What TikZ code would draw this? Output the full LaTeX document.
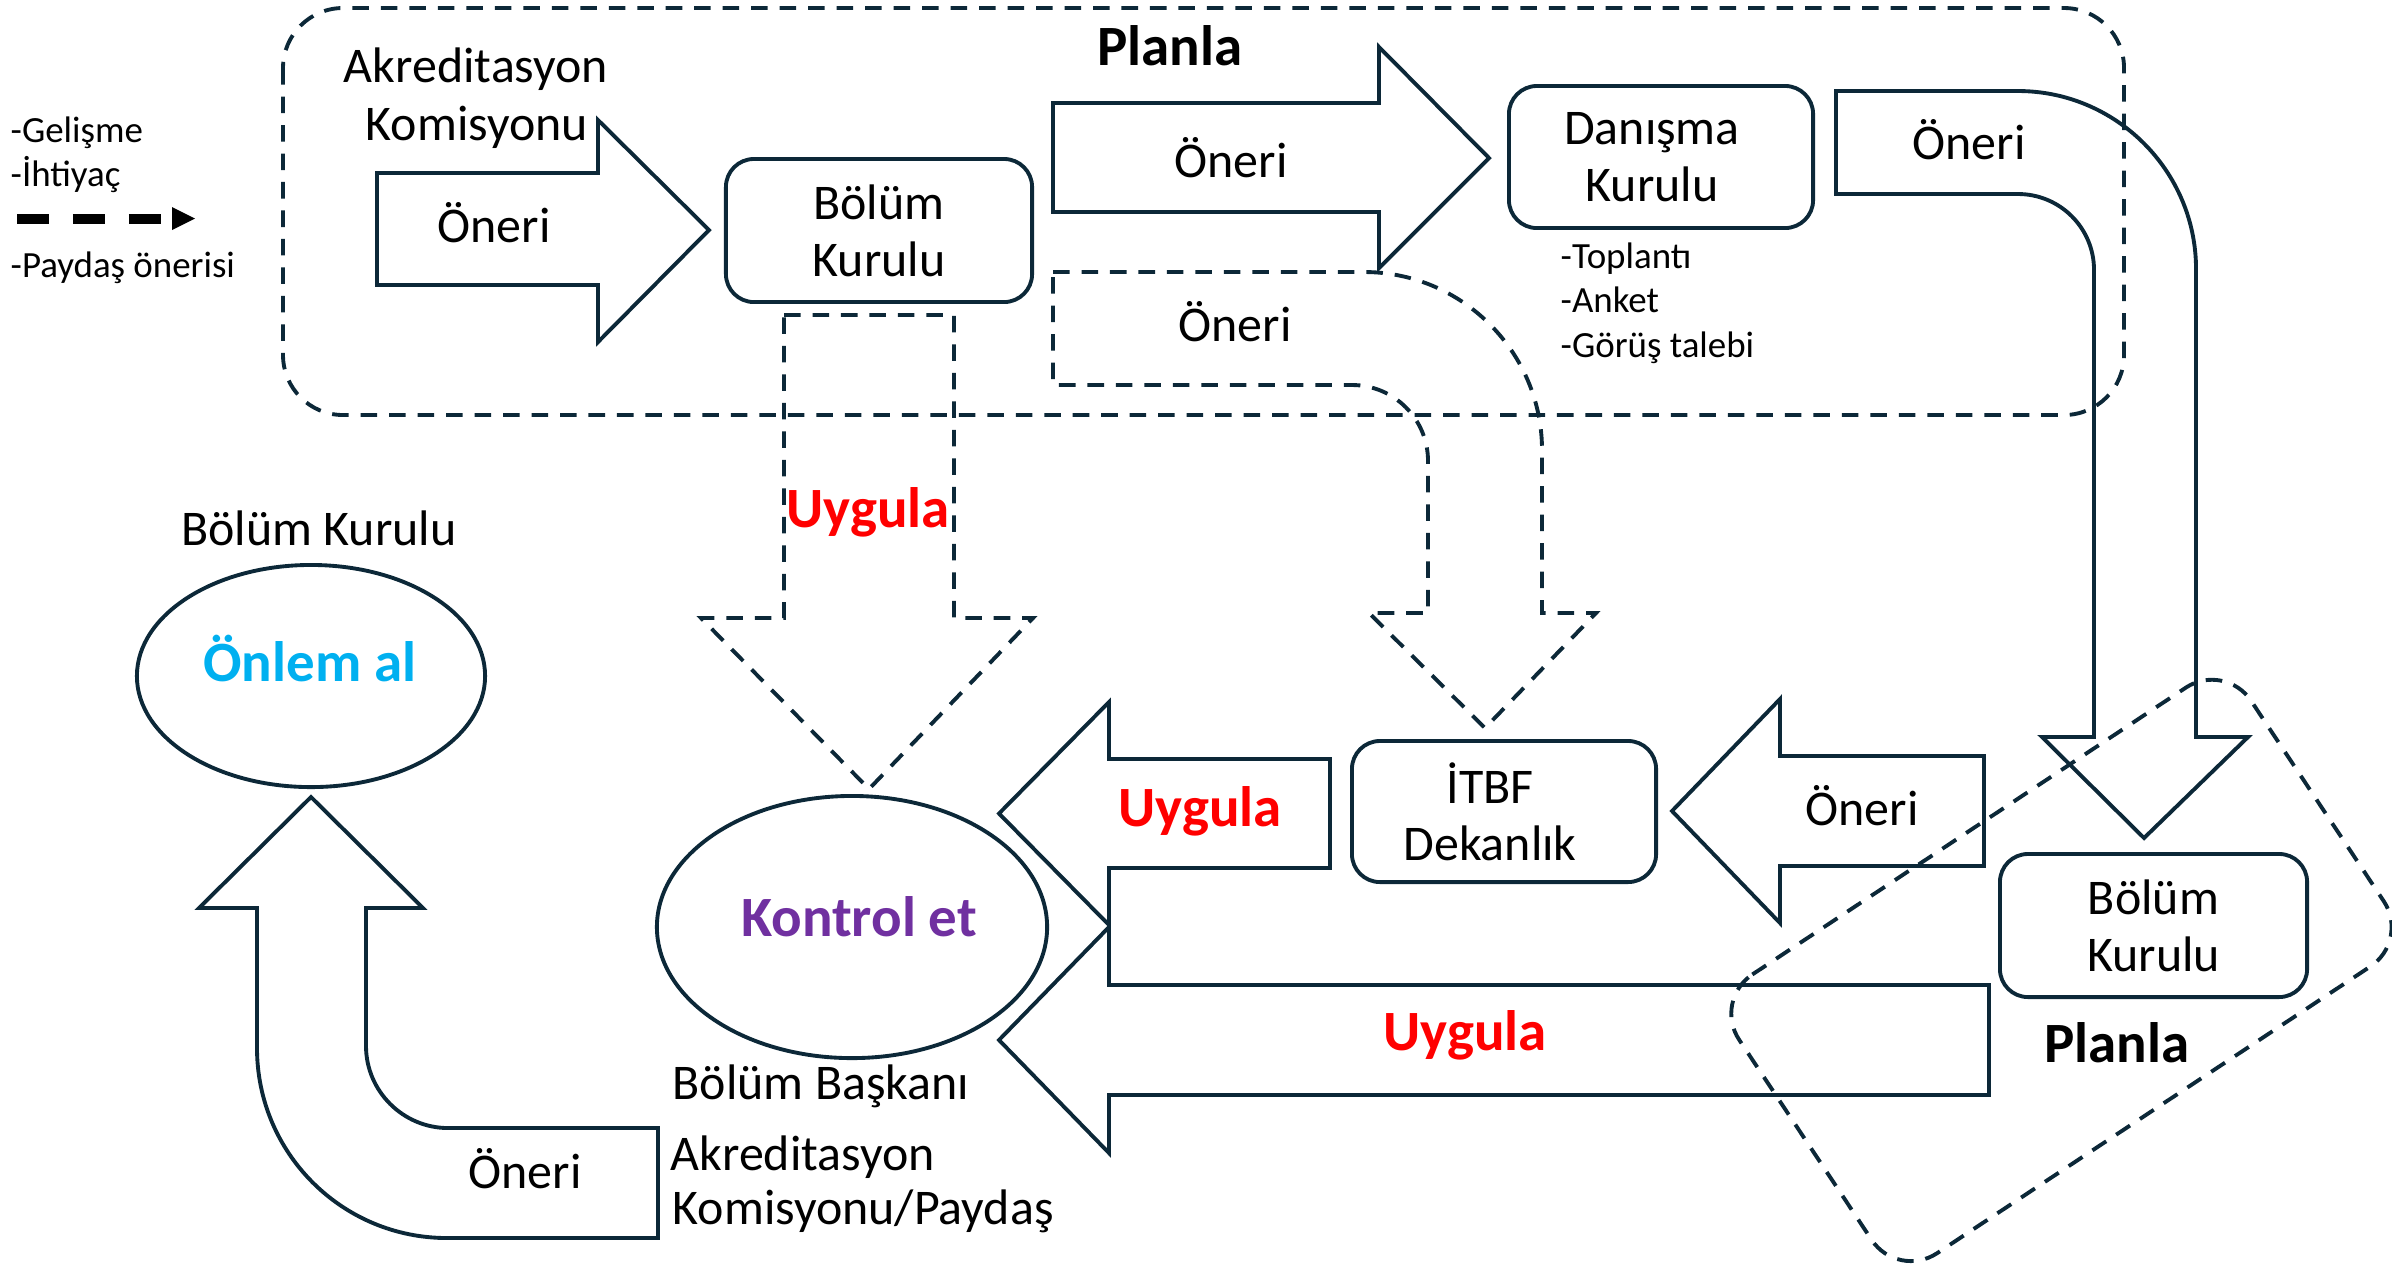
\documentclass[tikz,border=0pt]{standalone}
\usepackage{fontspec}
\setmainfont{Carlito}
\usetikzlibrary{shapes.geometric}
\definecolor{lc}{HTML}{0C2838}
\definecolor{ured}{HTML}{FF0000}
\definecolor{kpurple}{HTML}{7030A0}
\definecolor{ocyan}{HTML}{00B0F0}
\begin{document}
\begin{tikzpicture}[x=0.01cm, y=-0.01cm,
  ln/.style={draw=lc, line width=1.1pt, line join=miter},
  dsh/.style={ln, dash pattern=on 4.7pt off 3.4pt},
  mtxt/.style={font=\fontsize{14.2}{16.2}\selectfont, inner sep=0pt, text=black},
  stxt/.style={font=\fontsize{10.5}{12.6}\selectfont, inner sep=0pt, text=black},
  btxt/.style={font=\bfseries\fontsize{16.2}{19}\selectfont, inner sep=0pt, text=black},
  box/.style={ln, rounded corners=0.28cm, align=center, mtxt},
  oval/.style={ln, ellipse, inner sep=0pt}]
\useasboundingbox (0,0) rectangle (2392,1265);

% Planla regions (dashed)
\draw[dsh, rounded corners=0.6cm] (283,8) rectangle (2124,415);
\draw[dsh, rounded corners=0.47cm] (1713.1,1000.4) -- (2225.1,661.6) -- (2409.7,940.4) -- (1897.7,1279.2) -- cycle;

% legend
\node[stxt, anchor=base west] (l1) at (10,142) {-Gelişme};
\node[stxt, anchor=base west] (l2) at (10,186) {-İhtiyaç};
\node[stxt, anchor=base west] (l3) at (10,277) {-Paydaş önerisi};
\coordinate (la) at (17,218.5);
\coordinate (lb) at (172,218.5);
\draw[black, line width=2.85pt, dash pattern=on 9.1pt off 6.8pt] (la) -- (lb);
\fill[black] (172,207) -- (195,218.5) -- (172,230) -- cycle;

% boxes
\node[box, minimum width=3.06cm, minimum height=1.43cm] (bk1) at (879,230.5) {Bölüm\\Kurulu};
\node[box, minimum width=3.04cm, minimum height=1.42cm] (dk) at (1661,157) {Danışma\hspace*{0.18cm}\\Kurulu\hspace*{0.18cm}};
\node[box, minimum width=3.04cm, minimum height=1.41cm] (itbf) at (1504,811.5) {İTBF\hspace*{0.28cm}\\Dekanlık\hspace*{0.28cm}};
\node[box, minimum width=3.07cm, minimum height=1.43cm] (bk2) at (2153.5,925.5) {Bölüm\\Kurulu};

% ellipses
\node[oval, minimum width=3.48cm, minimum height=2.22cm] (e1) at (311,676) {};
\node[oval, minimum width=3.90cm, minimum height=2.62cm] (e2) at (852,927) {};

% block arrows (solid)
\draw[ln] (377,173) -- (598,173) -- (598,120) -- (709,230) -- (598,342) -- (598,285) -- (377,285) -- cycle;
\draw[ln] (1053,103) -- (1379,103) -- (1379,47) -- (1489,158) -- (1379,268) -- (1379,212) -- (1053,212) -- cycle;
\draw[ln] (1836,91) -- (2018,91) .. controls (2116,91) and (2196,171) .. (2196,269) -- (2196,737) -- (2248,737) -- (2144,838) -- (2042,737) -- (2094,737) -- (2094,270) .. controls (2094,228) and (2060,194) .. (2018,194) -- (1836,194) -- cycle;
\draw[ln] (1330,759) -- (1109,759) -- (1109,702) -- (999,813.5) -- (1109,925) -- (1109,868) -- (1330,868) -- cycle;
\draw[ln] (1989,985) -- (1109,985) -- (1109,927) -- (999,1040) -- (1109,1153) -- (1109,1095) -- (1989,1095) -- cycle;
\draw[ln] (1984,756) -- (1780,756) -- (1780,699) -- (1672,811) -- (1780,923) -- (1780,866) -- (1984,866) -- cycle;
\draw[ln] (311,797) -- (423,908) -- (366,908) -- (366,1046) .. controls (366,1091) and (403,1128) .. (448,1128) -- (658,1128) -- (658,1238) -- (447,1238) .. controls (342,1238) and (257,1153) .. (257,1048) -- (257,908) -- (199,908) -- cycle;

% block arrows (dashed)
\draw[dsh] (784,315) -- (954,315) -- (954,618) -- (1033,618) -- (869,789) -- (701,618) -- (784,618) -- cycle;
\draw[dsh] (1053,272) -- (1364,272) .. controls (1462,272) and (1542,352) .. (1542,450) -- (1542,613) -- (1596,613) -- (1485,728) -- (1369,613) -- (1428,613) -- (1428,461) .. controls (1428,419) and (1394,385) .. (1352,385) -- (1053,385) -- cycle;

% texts
\node[mtxt, anchor=base] (akr1) at (476,82) {Akreditasyon};
\node[mtxt, anchor=base] (akr2) at (477,140) {Komisyonu};
\node[btxt, anchor=base] (planla1) at (1170,65) {Planla};
\node[mtxt, anchor=base] (o1) at (494,242) {Öneri};
\node[mtxt, anchor=base] (o2) at (1231,177) {Öneri};
\node[mtxt, anchor=base] (o3) at (1969,159) {Öneri};
\node[mtxt, anchor=base] (o4) at (1235,341) {Öneri};
\node[btxt, anchor=base, text=ured] (u1) at (868,527) {Uygula};
\node[stxt, anchor=base west] (d1) at (1560,268) {-Toplantı};
\node[stxt, anchor=base west] (d2) at (1560,312) {-Anket};
\node[stxt, anchor=base west] (d3) at (1560,357) {-Görüş talebi};
\node[mtxt, anchor=base] (bkl) at (319,545) {Bölüm Kurulu};
\node[btxt, anchor=base, text=ocyan] (onlem) at (310,681) {Önlem al};
\node[btxt, anchor=base, text=kpurple] (kontrol) at (859,936) {Kontrol et};
\node[mtxt, anchor=base west] (bb) at (672,1099) {Bölüm Başkanı};
\node[mtxt, anchor=base west] (ak1) at (670,1170) {Akreditasyon};
\node[mtxt, anchor=base west] (ak2) at (672,1224) {Komisyonu/Paydaş};
\node[mtxt, anchor=base] (o5) at (525,1188) {Öneri};
\node[btxt, anchor=base, text=ured] (u2) at (1200,826) {Uygula};
\node[btxt, anchor=base, text=ured] (u3) at (1465,1050) {Uygula};
\node[mtxt, anchor=base] (o6) at (1862,825) {Öneri};
\node[btxt, anchor=base] (planla2) at (2117,1062) {Planla};
\end{tikzpicture}
\end{document}
